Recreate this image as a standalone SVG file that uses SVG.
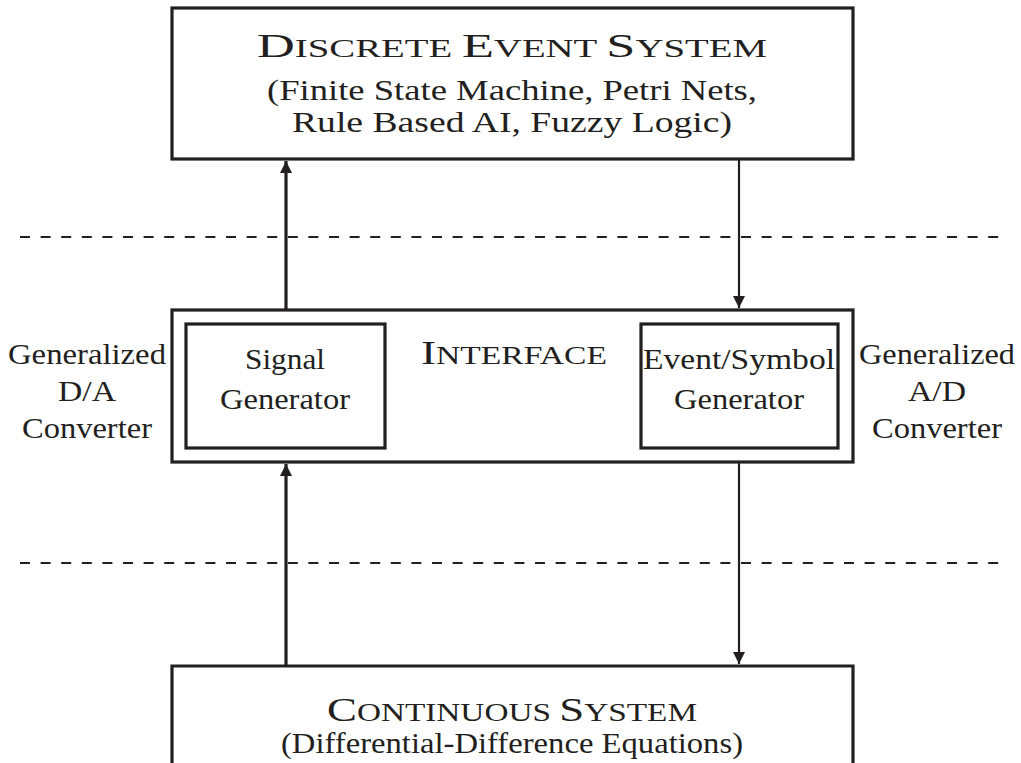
<svg xmlns="http://www.w3.org/2000/svg" width="1021" height="763" viewBox="0 0 1021 763">
  <style>
    .box { fill: none; stroke: #231f20; stroke-width: 3.2; }
    .inner { fill: none; stroke: #231f20; stroke-width: 3.2; }
    .dash { stroke: #231f20; stroke-width: 2; stroke-dasharray: 10 10.6; fill: none; }
    .thick { stroke: #231f20; stroke-width: 3.2; fill: none; }
    .thin { stroke: #231f20; stroke-width: 2.2; fill: none; }
    text { font-family: "Liberation Serif", "DejaVu Serif", serif; fill: #231f20; text-anchor: middle; }
    .t { font-size: 29.5px; }
    .sc { font-size: 24.5px; }
    .big { font-size: 33px; }
  </style>
  <defs>
    <marker id="arrow" viewBox="0 0 10 10" refX="10" refY="5" markerUnits="userSpaceOnUse" markerWidth="14" markerHeight="12" orient="auto">
      <path d="M0,0 L10,5 L0,10 Z" fill="#231f20"/>
    </marker>
  </defs>

  <!-- layer separators -->
  <g id="separators">
    <line class="dash" x1="20" y1="237" x2="1008" y2="237"/>
    <line class="dash" x1="20" y1="563" x2="1008" y2="563"/>
  </g>

  <g id="discrete-event-system">
    <rect class="box" x="172" y="8" width="681" height="151"/>
    <text class="t" x="512" y="57" textLength="510" lengthAdjust="spacingAndGlyphs"><tspan class="big">D</tspan><tspan class="sc">ISCRETE </tspan><tspan class="big">E</tspan><tspan class="sc">VENT </tspan><tspan class="big">S</tspan><tspan class="sc">YSTEM</tspan></text>
    <text class="t" x="512" y="100" textLength="490" lengthAdjust="spacingAndGlyphs">(Finite State Machine, Petri Nets,</text>
    <text class="t" x="512" y="132" textLength="440" lengthAdjust="spacingAndGlyphs">Rule Based AI, Fuzzy Logic)</text>
  </g>

  <g id="interface">
    <rect class="box" x="172" y="310" width="681" height="152"/>
    <text class="t" x="514" y="364" textLength="186" lengthAdjust="spacingAndGlyphs"><tspan class="big">I</tspan><tspan class="sc">NTERFACE</tspan></text>
  </g>

  <g id="signal-generator">
    <rect class="inner" x="186" y="324" width="199" height="124"/>
    <text class="t" x="285" y="369" textLength="80" lengthAdjust="spacingAndGlyphs">Signal</text>
    <text class="t" x="285" y="409" textLength="130" lengthAdjust="spacingAndGlyphs">Generator</text>
  </g>

  <g id="event-symbol-generator">
    <rect class="inner" x="641" y="324" width="197" height="124"/>
    <text class="t" x="739" y="369" textLength="192" lengthAdjust="spacingAndGlyphs">Event/Symbol</text>
    <text class="t" x="739" y="409" textLength="130" lengthAdjust="spacingAndGlyphs">Generator</text>
  </g>

  <g id="da-converter">
    <text class="t" x="87" y="364" textLength="158" lengthAdjust="spacingAndGlyphs">Generalized</text>
    <text class="t" x="87" y="401" textLength="58" lengthAdjust="spacingAndGlyphs">D/A</text>
    <text class="t" x="87" y="438" textLength="130" lengthAdjust="spacingAndGlyphs">Converter</text>
  </g>

  <g id="ad-converter">
    <text class="t" x="937" y="364" textLength="156" lengthAdjust="spacingAndGlyphs">Generalized</text>
    <text class="t" x="937" y="401" textLength="58" lengthAdjust="spacingAndGlyphs">A/D</text>
    <text class="t" x="937" y="438" textLength="130" lengthAdjust="spacingAndGlyphs">Converter</text>
  </g>

  <g id="continuous-system">
    <path class="box" d="M172,770 V666 H853 V770"/>
    <text class="t" x="512" y="721" textLength="370" lengthAdjust="spacingAndGlyphs"><tspan class="big">C</tspan><tspan class="sc">ONTINUOUS </tspan><tspan class="big">S</tspan><tspan class="sc">YSTEM</tspan></text>
    <text class="t" x="512" y="753" textLength="462" lengthAdjust="spacingAndGlyphs">(Differential-Difference Equations)</text>
  </g>

  <g id="connectors">
    <line class="thick" x1="286" y1="310" x2="286" y2="161" marker-end="url(#arrow)"/>
    <line class="thin" x1="739" y1="160" x2="739" y2="308" marker-end="url(#arrow)"/>
    <line class="thick" x1="286" y1="666" x2="286" y2="464" marker-end="url(#arrow)"/>
    <line class="thin" x1="739" y1="463" x2="739" y2="664" marker-end="url(#arrow)"/>
  </g>
</svg>
